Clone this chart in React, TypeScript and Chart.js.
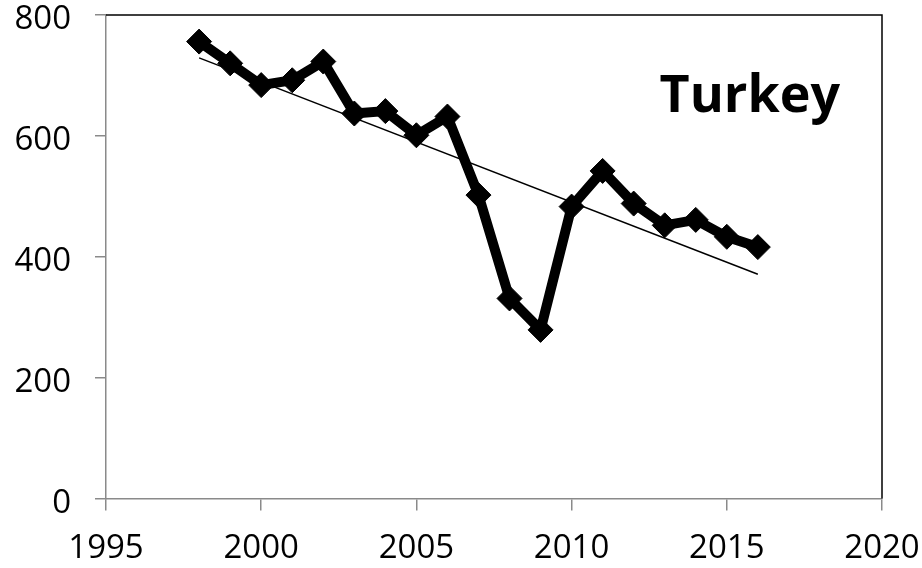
import React, { useEffect, useRef } from "react";
import { Chart, registerables } from "chart.js";

Chart.register(...registerables);

const years = [1998, 1999, 2000, 2001, 2002, 2003, 2004, 2005, 2006, 2007, 2008, 2009, 2010, 2011, 2012, 2013, 2014, 2015, 2016];
const values = [756, 720, 684, 692, 723, 637, 641, 601, 632, 502, 331, 279, 483, 542, 488, 452, 461, 433, 416];
const trendYears = [1998, 2016];
const trendValues = [729, 371];
const chartTitle = "Turkey";

const framePlugin = {
  id: "frame",
  afterDraw(chart: any) {
    const { ctx, chartArea } = chart;
    ctx.save();
    ctx.strokeStyle = "#000000";
    ctx.lineWidth = 1.5;
    ctx.beginPath();
    ctx.moveTo(chartArea.left, chartArea.top);
    ctx.lineTo(chartArea.right, chartArea.top);
    ctx.lineTo(chartArea.right, chartArea.bottom);
    ctx.stroke();
    ctx.fillStyle = "#000000";
    ctx.font = "bold 52px 'Open Sans'";
    ctx.textAlign = "right";
    ctx.textBaseline = "alphabetic";
    ctx.fillText(chartTitle, chartArea.right - 42, chartArea.top + 97);
    ctx.restore();
  },
};

export default function App() {
  const ref = useRef<HTMLCanvasElement | null>(null);
  useEffect(() => {
    if (!ref.current) return;
    const chart = new Chart(ref.current, {
      type: "line",
      data: {
        datasets: [
          {
            label: "trend",
            data: trendYears.map((x, i) => ({ x, y: trendValues[i] })),
            borderColor: "#000000",
            borderWidth: 1.5,
            pointRadius: 0,
            fill: false,
          },
          {
            label: "Turkey",
            data: years.map((x, i) => ({ x, y: values[i] })),
            borderColor: "#000000",
            backgroundColor: "#000000",
            borderWidth: 10,
            pointStyle: "rectRot",
            pointRadius: 12.5,
            pointBorderWidth: 1,
            pointBackgroundColor: "#000000",
            pointBorderColor: "#000000",
            fill: false,
          },
        ],
      },
      options: {
        animation: false,
        responsive: true,
        maintainAspectRatio: false,
        layout: { padding: { top: 15, right: 40, left: 0, bottom: 0 } },
        plugins: { legend: { display: false }, tooltip: { enabled: false } },
        scales: {
          x: {
            type: "linear",
            min: 1995,
            max: 2020,
            ticks: {
              stepSize: 5,
              color: "#000000",
              padding: 18,
              maxRotation: 0,
              font: { family: "'Open Sans'", size: 33 },
              callback: (v: any) => String(v),
            },
            grid: { drawOnChartArea: false, drawTicks: true, tickLength: 12, color: "#8a8a8a", lineWidth: 1.5 },
            border: { display: true, color: "#8a8a8a", width: 1.5 },
            afterFit: (s: any) => {
              s.height = 69.5;
              s.paddingLeft = 0;
              s.paddingRight = 0;
            },
          },
          y: {
            min: 0,
            max: 800,
            ticks: {
              stepSize: 200,
              color: "#000000",
              padding: 24,
              labelOffset: 5,
              font: { family: "'Open Sans'", size: 33, lineHeight: 0.9 },
            },
            grid: { drawOnChartArea: false, drawTicks: true, tickLength: 11, color: "#8a8a8a", lineWidth: 1.5 },
            border: { display: true, color: "#8a8a8a", width: 1.5 },
            afterFit: (s: any) => {
              s.width = 106;
              s.paddingTop = 0;
              s.paddingBottom = 0;
            },
          },
        },
      },
      plugins: [framePlugin],
    });
    return () => chart.destroy();
  }, []);
  return (
    <div style={{ position: "fixed", left: 0, top: 0, width: 922, height: 568, background: "#ffffff" }}>
      <canvas ref={ref} />
    </div>
  );
}
